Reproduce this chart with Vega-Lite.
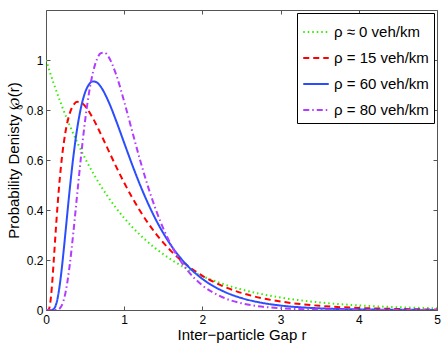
{
  "$schema": "https://vega.github.io/schema/vega-lite/v6.json",
  "width": 391,
  "height": 300,
  "autosize": {"type": "none"},
  "padding": {"left": 46, "top": 10, "right": 9, "bottom": 36},
  "background": "white",
  "config": {
    "font": "Liberation Sans",
    "view": {"stroke": "#555555", "strokeWidth": 1}
  },
  "data": {"values": [
    {"s": "ρ ≈ 0 veh/km", "r": 0, "p": 1},
    {"s": "ρ ≈ 0 veh/km", "r": 0.1, "p": 0.9048},
    {"s": "ρ ≈ 0 veh/km", "r": 0.2, "p": 0.8187},
    {"s": "ρ ≈ 0 veh/km", "r": 0.3, "p": 0.7408},
    {"s": "ρ ≈ 0 veh/km", "r": 0.4, "p": 0.6703},
    {"s": "ρ ≈ 0 veh/km", "r": 0.5, "p": 0.6065},
    {"s": "ρ ≈ 0 veh/km", "r": 0.6, "p": 0.5488},
    {"s": "ρ ≈ 0 veh/km", "r": 0.7, "p": 0.4966},
    {"s": "ρ ≈ 0 veh/km", "r": 0.8, "p": 0.4493},
    {"s": "ρ ≈ 0 veh/km", "r": 0.9, "p": 0.4066},
    {"s": "ρ ≈ 0 veh/km", "r": 1.0, "p": 0.3679},
    {"s": "ρ ≈ 0 veh/km", "r": 1.2, "p": 0.3012},
    {"s": "ρ ≈ 0 veh/km", "r": 1.4, "p": 0.2466},
    {"s": "ρ ≈ 0 veh/km", "r": 1.6, "p": 0.2019},
    {"s": "ρ ≈ 0 veh/km", "r": 1.8, "p": 0.1653},
    {"s": "ρ ≈ 0 veh/km", "r": 2.0, "p": 0.1353},
    {"s": "ρ ≈ 0 veh/km", "r": 2.25, "p": 0.1054},
    {"s": "ρ ≈ 0 veh/km", "r": 2.5, "p": 0.0821},
    {"s": "ρ ≈ 0 veh/km", "r": 2.75, "p": 0.0639},
    {"s": "ρ ≈ 0 veh/km", "r": 3.0, "p": 0.0498},
    {"s": "ρ ≈ 0 veh/km", "r": 3.5, "p": 0.0302},
    {"s": "ρ ≈ 0 veh/km", "r": 4.0, "p": 0.0183},
    {"s": "ρ ≈ 0 veh/km", "r": 4.5, "p": 0.0111},
    {"s": "ρ ≈ 0 veh/km", "r": 5.0, "p": 0.0067},

    {"s": "ρ = 15 veh/km", "r": 0, "p": 0},
    {"s": "ρ = 15 veh/km", "r": 0.025, "p": 0.0001},
    {"s": "ρ = 15 veh/km", "r": 0.0375, "p": 0.0036},
    {"s": "ρ = 15 veh/km", "r": 0.05, "p": 0.0185},
    {"s": "ρ = 15 veh/km", "r": 0.075, "p": 0.092},
    {"s": "ρ = 15 veh/km", "r": 0.1, "p": 0.2019},
    {"s": "ρ = 15 veh/km", "r": 0.125, "p": 0.3189},
    {"s": "ρ = 15 veh/km", "r": 0.15, "p": 0.4271},
    {"s": "ρ = 15 veh/km", "r": 0.175, "p": 0.521},
    {"s": "ρ = 15 veh/km", "r": 0.2, "p": 0.5994},
    {"s": "ρ = 15 veh/km", "r": 0.25, "p": 0.7139},
    {"s": "ρ = 15 veh/km", "r": 0.3, "p": 0.7829},
    {"s": "ρ = 15 veh/km", "r": 0.35, "p": 0.8192},
    {"s": "ρ = 15 veh/km", "r": 0.4, "p": 0.8326},
    {"s": "ρ = 15 veh/km", "r": 0.45, "p": 0.8297},
    {"s": "ρ = 15 veh/km", "r": 0.5, "p": 0.8157},
    {"s": "ρ = 15 veh/km", "r": 0.6, "p": 0.767},
    {"s": "ρ = 15 veh/km", "r": 0.7, "p": 0.7045},
    {"s": "ρ = 15 veh/km", "r": 0.8, "p": 0.6376},
    {"s": "ρ = 15 veh/km", "r": 0.9, "p": 0.5715},
    {"s": "ρ = 15 veh/km", "r": 1.0, "p": 0.5088},
    {"s": "ρ = 15 veh/km", "r": 1.1, "p": 0.4507},
    {"s": "ρ = 15 veh/km", "r": 1.2, "p": 0.3977},
    {"s": "ρ = 15 veh/km", "r": 1.4, "p": 0.3072},
    {"s": "ρ = 15 veh/km", "r": 1.6, "p": 0.2356},
    {"s": "ρ = 15 veh/km", "r": 1.8, "p": 0.1798},
    {"s": "ρ = 15 veh/km", "r": 2.0, "p": 0.1367},
    {"s": "ρ = 15 veh/km", "r": 2.25, "p": 0.0968},
    {"s": "ρ = 15 veh/km", "r": 2.5, "p": 0.0683},
    {"s": "ρ = 15 veh/km", "r": 2.75, "p": 0.0481},
    {"s": "ρ = 15 veh/km", "r": 3.0, "p": 0.0339},
    {"s": "ρ = 15 veh/km", "r": 3.5, "p": 0.0167},
    {"s": "ρ = 15 veh/km", "r": 4.0, "p": 0.0082},
    {"s": "ρ = 15 veh/km", "r": 4.5, "p": 0.004},
    {"s": "ρ = 15 veh/km", "r": 5.0, "p": 0.002},

    {"s": "ρ = 60 veh/km", "r": 0, "p": 0},
    {"s": "ρ = 60 veh/km", "r": 0.05, "p": 0},
    {"s": "ρ = 60 veh/km", "r": 0.075, "p": 0.0003},
    {"s": "ρ = 60 veh/km", "r": 0.1, "p": 0.0042},
    {"s": "ρ = 60 veh/km", "r": 0.125, "p": 0.0188},
    {"s": "ρ = 60 veh/km", "r": 0.15, "p": 0.0496},
    {"s": "ρ = 60 veh/km", "r": 0.175, "p": 0.098},
    {"s": "ρ = 60 veh/km", "r": 0.2, "p": 0.1612},
    {"s": "ρ = 60 veh/km", "r": 0.225, "p": 0.2346},
    {"s": "ρ = 60 veh/km", "r": 0.25, "p": 0.3136},
    {"s": "ρ = 60 veh/km", "r": 0.3, "p": 0.472},
    {"s": "ρ = 60 veh/km", "r": 0.35, "p": 0.6139},
    {"s": "ρ = 60 veh/km", "r": 0.4, "p": 0.7286},
    {"s": "ρ = 60 veh/km", "r": 0.45, "p": 0.8134},
    {"s": "ρ = 60 veh/km", "r": 0.5, "p": 0.8702},
    {"s": "ρ = 60 veh/km", "r": 0.55, "p": 0.9025},
    {"s": "ρ = 60 veh/km", "r": 0.6, "p": 0.9145},
    {"s": "ρ = 60 veh/km", "r": 0.65, "p": 0.9102},
    {"s": "ρ = 60 veh/km", "r": 0.7, "p": 0.8932},
    {"s": "ρ = 60 veh/km", "r": 0.8, "p": 0.8334},
    {"s": "ρ = 60 veh/km", "r": 0.9, "p": 0.7543},
    {"s": "ρ = 60 veh/km", "r": 1.0, "p": 0.6682},
    {"s": "ρ = 60 veh/km", "r": 1.1, "p": 0.5828},
    {"s": "ρ = 60 veh/km", "r": 1.2, "p": 0.5025},
    {"s": "ρ = 60 veh/km", "r": 1.4, "p": 0.3643},
    {"s": "ρ = 60 veh/km", "r": 1.6, "p": 0.2581},
    {"s": "ρ = 60 veh/km", "r": 1.8, "p": 0.1801},
    {"s": "ρ = 60 veh/km", "r": 2.0, "p": 0.1244},
    {"s": "ρ = 60 veh/km", "r": 2.25, "p": 0.0774},
    {"s": "ρ = 60 veh/km", "r": 2.5, "p": 0.0478},
    {"s": "ρ = 60 veh/km", "r": 2.75, "p": 0.0293},
    {"s": "ρ = 60 veh/km", "r": 3.0, "p": 0.0179},
    {"s": "ρ = 60 veh/km", "r": 3.5, "p": 0.0066},
    {"s": "ρ = 60 veh/km", "r": 4.0, "p": 0.0024},
    {"s": "ρ = 60 veh/km", "r": 4.5, "p": 0.0009},
    {"s": "ρ = 60 veh/km", "r": 5.0, "p": 0.0003},

    {"s": "ρ = 80 veh/km", "r": 0, "p": 0},
    {"s": "ρ = 80 veh/km", "r": 0.1, "p": 0},
    {"s": "ρ = 80 veh/km", "r": 0.125, "p": 0.0002},
    {"s": "ρ = 80 veh/km", "r": 0.15, "p": 0.0015},
    {"s": "ρ = 80 veh/km", "r": 0.175, "p": 0.0062},
    {"s": "ρ = 80 veh/km", "r": 0.2, "p": 0.0173},
    {"s": "ρ = 80 veh/km", "r": 0.225, "p": 0.0381},
    {"s": "ρ = 80 veh/km", "r": 0.25, "p": 0.0705},
    {"s": "ρ = 80 veh/km", "r": 0.275, "p": 0.1153},
    {"s": "ρ = 80 veh/km", "r": 0.3, "p": 0.1715},
    {"s": "ρ = 80 veh/km", "r": 0.35, "p": 0.3103},
    {"s": "ρ = 80 veh/km", "r": 0.4, "p": 0.4668},
    {"s": "ρ = 80 veh/km", "r": 0.45, "p": 0.6208},
    {"s": "ρ = 80 veh/km", "r": 0.5, "p": 0.7577},
    {"s": "ρ = 80 veh/km", "r": 0.55, "p": 0.8684},
    {"s": "ρ = 80 veh/km", "r": 0.6, "p": 0.9497},
    {"s": "ρ = 80 veh/km", "r": 0.65, "p": 1.0016},
    {"s": "ρ = 80 veh/km", "r": 0.7, "p": 1.027},
    {"s": "ρ = 80 veh/km", "r": 0.75, "p": 1.0291},
    {"s": "ρ = 80 veh/km", "r": 0.8, "p": 1.0125},
    {"s": "ρ = 80 veh/km", "r": 0.9, "p": 0.9387},
    {"s": "ρ = 80 veh/km", "r": 1.0, "p": 0.8336},
    {"s": "ρ = 80 veh/km", "r": 1.1, "p": 0.7174},
    {"s": "ρ = 80 veh/km", "r": 1.2, "p": 0.6031},
    {"s": "ρ = 80 veh/km", "r": 1.3, "p": 0.4979},
    {"s": "ρ = 80 veh/km", "r": 1.4, "p": 0.4052},
    {"s": "ρ = 80 veh/km", "r": 1.6, "p": 0.26},
    {"s": "ρ = 80 veh/km", "r": 1.8, "p": 0.1618},
    {"s": "ρ = 80 veh/km", "r": 2.0, "p": 0.0985},
    {"s": "ρ = 80 veh/km", "r": 2.25, "p": 0.0519},
    {"s": "ρ = 80 veh/km", "r": 2.5, "p": 0.0268},
    {"s": "ρ = 80 veh/km", "r": 2.75, "p": 0.0137},
    {"s": "ρ = 80 veh/km", "r": 3.0, "p": 0.0069},
    {"s": "ρ = 80 veh/km", "r": 3.5, "p": 0.0017},
    {"s": "ρ = 80 veh/km", "r": 4.0, "p": 0.0004},
    {"s": "ρ = 80 veh/km", "r": 4.5, "p": 0.0001},
    {"s": "ρ = 80 veh/km", "r": 5.0, "p": 0}
  ]},
  "layer": [
    {
      "mark": {"type": "line", "interpolate": "monotone", "strokeWidth": 2, "clip": true},
      "encoding": {
        "x": {
          "field": "r", "type": "quantitative",
          "scale": {"domain": [0, 5], "nice": false, "zero": false},
          "axis": {
            "title": "Inter−particle Gap r", "values": [0, 1, 2, 3, 4, 5],
            "grid": false, "domain": false, "tickColor": "#555555", "tickSize": -4,
            "labelFontSize": 12, "labelColor": "#000000", "labelPadding": 8, "labelFlush": false,
            "titleFontSize": 15, "titleFontWeight": "normal", "titleColor": "#000000", "titlePadding": 2
          }
        },
        "y": {
          "field": "p", "type": "quantitative",
          "scale": {"domain": [0, 1.2], "nice": false, "zero": false},
          "axis": {
            "title": "Probability Denisty ℘(r)", "values": [0, 0.2, 0.4, 0.6, 0.8, 1], "format": "~g",
            "grid": false, "domain": false, "tickColor": "#555555", "tickSize": -4,
            "labelFontSize": 12, "labelColor": "#000000", "labelPadding": 7, "labelFlush": false,
            "titleFontSize": 15, "titleFontWeight": "normal", "titleColor": "#000000", "titlePadding": 5
          }
        },
        "color": {
          "field": "s", "type": "nominal",
          "scale": {
            "domain": ["ρ ≈ 0 veh/km", "ρ = 15 veh/km", "ρ = 60 veh/km", "ρ = 80 veh/km"],
            "range": ["#33ee00", "#ff0000", "#2a4dff", "#b23cff"]
          },
          "legend": {
            "title": null, "orient": "top-right", "offset": 3,
            "strokeColor": "#000000", "fillColor": "#ffffff", "padding": 5,
            "symbolType": "stroke", "symbolSize": 650, "symbolStrokeWidth": 2,
            "labelFontSize": 15, "labelColor": "#000000", "labelLimit": 300, "rowPadding": 4
          }
        },
        "strokeDash": {
          "field": "s", "type": "nominal",
          "scale": {
            "domain": ["ρ ≈ 0 veh/km", "ρ = 15 veh/km", "ρ = 60 veh/km", "ρ = 80 veh/km"],
            "range": [[1.5, 3], [6, 4], [1, 0], [6, 3, 1.5, 3]]
          },
          "legend": {
            "title": null, "orient": "top-right", "offset": 3,
            "strokeColor": "#000000", "fillColor": "#ffffff", "padding": 5,
            "symbolType": "stroke", "symbolSize": 650, "symbolStrokeWidth": 2,
            "labelFontSize": 15, "labelColor": "#000000", "labelLimit": 300, "rowPadding": 4
          }
        }
      }
    },
    {
      "mark": {"type": "point", "opacity": 0},
      "encoding": {
        "x": {
          "field": "r", "type": "quantitative",
          "axis": {"orient": "top", "values": [0, 1, 2, 3, 4, 5], "labels": false, "title": null, "grid": false, "domain": false, "tickColor": "#555555", "tickSize": -4}
        },
        "y": {
          "field": "p", "type": "quantitative",
          "axis": {"orient": "right", "values": [0, 0.2, 0.4, 0.6, 0.8, 1], "labels": false, "title": null, "grid": false, "domain": false, "tickColor": "#555555", "tickSize": -4}
        }
      }
    }
  ],
  "resolve": {"axis": {"x": "independent", "y": "independent"}}
}
